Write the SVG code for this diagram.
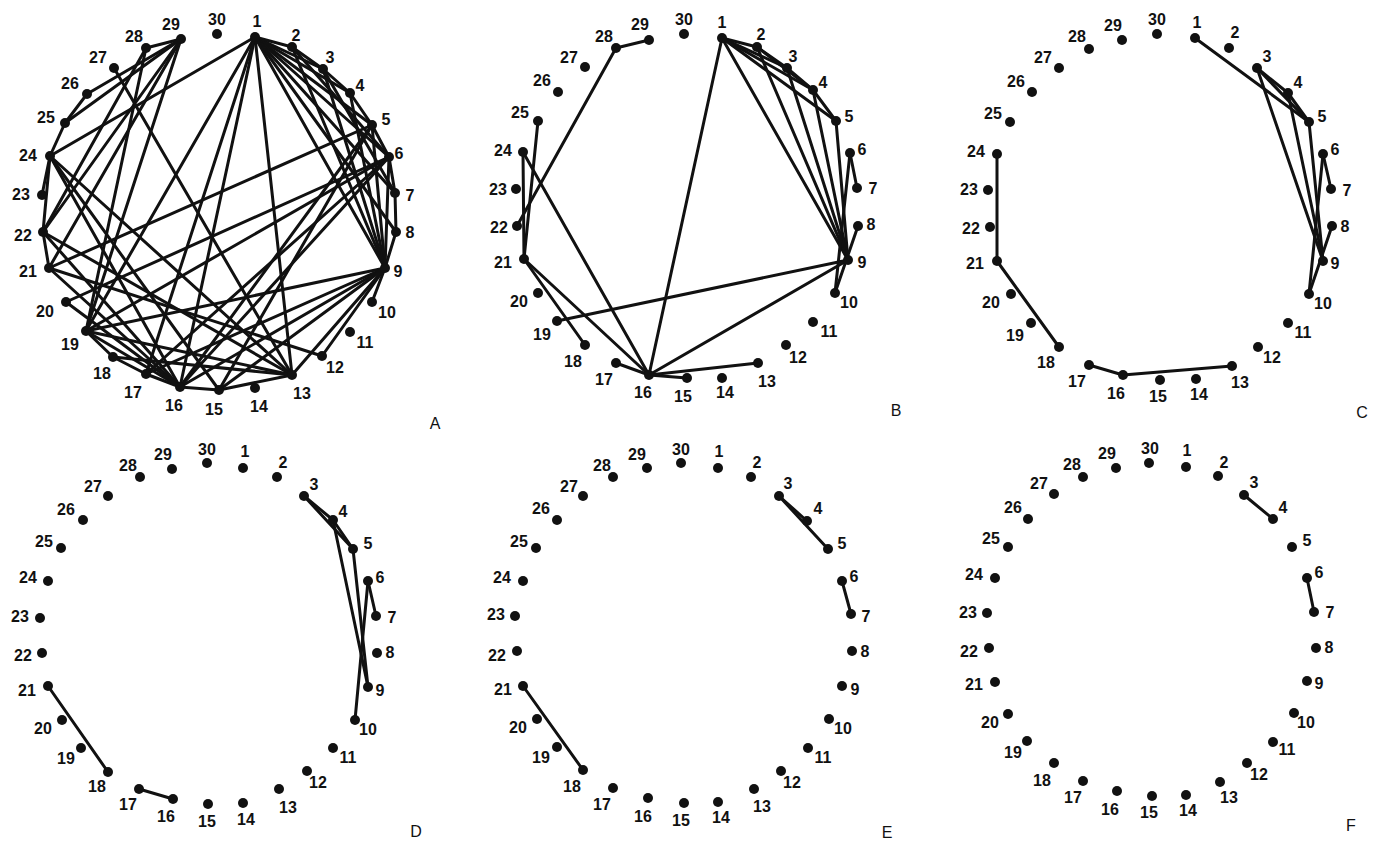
<svg xmlns="http://www.w3.org/2000/svg" width="1384" height="843" viewBox="0 0 1384 843">
<style>
.e line{stroke:#111;stroke-width:3;stroke-linecap:round}
.nd circle{fill:#111}
.nd text{font-family:"Liberation Sans",Arial,sans-serif;font-weight:bold;font-size:16px;fill:#111;text-anchor:middle}
.pl{font-family:"Liberation Sans",Arial,sans-serif;font-size:16px;fill:#111;text-anchor:middle}
</style>
<rect width="1384" height="843" fill="#fff"/>
<g id="connectors" class="e">
<!-- A -->
<line x1="255" y1="37" x2="292" y2="47"/><line x1="255" y1="37" x2="323" y2="69"/><line x1="255" y1="37" x2="350" y2="93"/><line x1="255" y1="37" x2="372" y2="125"/><line x1="255" y1="37" x2="389" y2="157"/><line x1="255" y1="37" x2="395" y2="193"/><line x1="255" y1="37" x2="396" y2="232"/><line x1="255" y1="37" x2="385" y2="268"/>
<line x1="292" y1="47" x2="323" y2="69"/><line x1="323" y1="69" x2="350" y2="93"/><line x1="350" y1="93" x2="372" y2="125"/><line x1="372" y1="125" x2="389" y2="157"/><line x1="389" y1="157" x2="395" y2="193"/><line x1="395" y1="193" x2="396" y2="232"/><line x1="396" y1="232" x2="385" y2="268"/><line x1="385" y1="268" x2="372" y2="302"/>
<line x1="292" y1="47" x2="385" y2="268"/><line x1="323" y1="69" x2="385" y2="268"/><line x1="350" y1="93" x2="385" y2="268"/><line x1="372" y1="125" x2="385" y2="268"/><line x1="389" y1="157" x2="385" y2="268"/><line x1="292" y1="47" x2="389" y2="157"/><line x1="323" y1="69" x2="395" y2="193"/>
<line x1="146" y1="48" x2="181" y2="39"/><line x1="65" y1="123" x2="87" y2="94"/><line x1="50" y1="156" x2="65" y2="123"/><line x1="50" y1="156" x2="43" y2="232"/><line x1="49" y1="268" x2="43" y2="232"/><line x1="50" y1="156" x2="42" y2="195"/>
<line x1="87" y1="94" x2="181" y2="39"/><line x1="65" y1="123" x2="181" y2="39"/><line x1="43" y1="232" x2="181" y2="39"/><line x1="49" y1="268" x2="181" y2="39"/><line x1="43" y1="232" x2="146" y2="48"/><line x1="86" y1="331" x2="146" y2="48"/><line x1="86" y1="331" x2="181" y2="39"/>
<line x1="255" y1="37" x2="50" y2="156"/><line x1="255" y1="37" x2="86" y2="331"/><line x1="255" y1="37" x2="180" y2="387"/><line x1="255" y1="37" x2="292" y2="375"/><line x1="255" y1="37" x2="146" y2="374"/>
<line x1="114" y1="68" x2="292" y2="375"/><line x1="50" y1="156" x2="292" y2="375"/><line x1="50" y1="156" x2="180" y2="387"/><line x1="50" y1="156" x2="219" y2="390"/><line x1="43" y1="232" x2="292" y2="375"/><line x1="43" y1="232" x2="180" y2="387"/><line x1="49" y1="268" x2="180" y2="387"/><line x1="49" y1="268" x2="322" y2="356"/>
<line x1="86" y1="331" x2="292" y2="375"/><line x1="86" y1="331" x2="385" y2="268"/><line x1="146" y1="374" x2="385" y2="268"/><line x1="180" y1="387" x2="385" y2="268"/><line x1="219" y1="390" x2="385" y2="268"/><line x1="292" y1="375" x2="385" y2="268"/><line x1="322" y1="356" x2="385" y2="268"/>
<line x1="180" y1="387" x2="372" y2="125"/><line x1="219" y1="390" x2="372" y2="125"/><line x1="146" y1="374" x2="389" y2="157"/><line x1="180" y1="387" x2="389" y2="157"/><line x1="86" y1="331" x2="389" y2="157"/><line x1="49" y1="268" x2="372" y2="125"/><line x1="66" y1="302" x2="389" y2="157"/>
<line x1="292" y1="375" x2="219" y2="390"/><line x1="219" y1="390" x2="180" y2="387"/><line x1="180" y1="387" x2="146" y2="374"/><line x1="146" y1="374" x2="113" y2="357"/><line x1="113" y1="357" x2="86" y2="331"/><line x1="86" y1="331" x2="180" y2="387"/><line x1="113" y1="357" x2="292" y2="375"/><line x1="66" y1="302" x2="180" y2="387"/>
<!-- B -->
<line x1="616" y1="48" x2="649" y2="40"/><line x1="616" y1="48" x2="517" y2="226"/><line x1="538" y1="121" x2="524" y2="259"/><line x1="523" y1="152" x2="524" y2="259"/><line x1="523" y1="152" x2="649" y2="375"/><line x1="524" y1="259" x2="649" y2="375"/><line x1="524" y1="259" x2="585" y2="345"/>
<line x1="557" y1="321" x2="848" y2="260"/><line x1="616" y1="363" x2="649" y2="375"/><line x1="649" y1="375" x2="687" y2="378"/><line x1="649" y1="375" x2="758" y2="363"/><line x1="649" y1="375" x2="722" y2="38"/><line x1="649" y1="375" x2="848" y2="260"/>
<line x1="722" y1="38" x2="757" y2="47"/><line x1="722" y1="38" x2="787" y2="68"/><line x1="722" y1="38" x2="813" y2="90"/><line x1="722" y1="38" x2="836" y2="121"/><line x1="722" y1="38" x2="848" y2="260"/><line x1="757" y1="47" x2="787" y2="68"/><line x1="757" y1="47" x2="813" y2="90"/><line x1="787" y1="68" x2="813" y2="90"/><line x1="813" y1="90" x2="836" y2="121"/>
<line x1="757" y1="47" x2="848" y2="260"/><line x1="787" y1="68" x2="848" y2="260"/><line x1="813" y1="90" x2="848" y2="260"/><line x1="836" y1="121" x2="848" y2="260"/><line x1="850" y1="153" x2="857" y2="188"/><line x1="850" y1="153" x2="835" y2="293"/><line x1="858" y1="226" x2="835" y2="293"/>
<!-- C -->
<line x1="997" y1="154" x2="997" y2="261"/><line x1="997" y1="261" x2="1059" y2="347"/><line x1="1089" y1="365" x2="1123" y2="375"/><line x1="1123" y1="375" x2="1232" y2="366"/>
<line x1="1195" y1="38" x2="1309" y2="122"/><line x1="1257" y1="68" x2="1288" y2="93"/><line x1="1288" y1="93" x2="1309" y2="122"/><line x1="1257" y1="68" x2="1309" y2="122"/><line x1="1257" y1="68" x2="1323" y2="261"/><line x1="1288" y1="93" x2="1323" y2="261"/><line x1="1309" y1="122" x2="1323" y2="261"/><line x1="1323" y1="154" x2="1331" y2="189"/><line x1="1323" y1="154" x2="1309" y2="294"/><line x1="1332" y1="226" x2="1309" y2="294"/>
<!-- D -->
<line x1="48" y1="686" x2="108" y2="772"/><line x1="139" y1="789" x2="173" y2="799"/><line x1="304" y1="496" x2="333" y2="520"/><line x1="333" y1="520" x2="353" y2="549"/><line x1="304" y1="496" x2="353" y2="549"/><line x1="333" y1="520" x2="368" y2="687"/><line x1="353" y1="549" x2="368" y2="687"/><line x1="368" y1="581" x2="376" y2="616"/><line x1="368" y1="581" x2="355" y2="720"/>
<!-- E -->
<line x1="523" y1="686" x2="583" y2="770"/><line x1="779" y1="496" x2="807" y2="521"/><line x1="779" y1="496" x2="828" y2="549"/><line x1="842" y1="581" x2="851" y2="614"/>
<!-- F -->
<line x1="1244" y1="495" x2="1273" y2="519"/><line x1="1307" y1="578" x2="1314" y2="612"/>
</g>
<g id="panelA">
<g id="A1" class="nd"><circle cx="255" cy="37" r="5"/><text x="257" y="27">1</text></g>
<g id="A2" class="nd"><circle cx="292" cy="47" r="5"/><text x="296" y="41">2</text></g>
<g id="A3" class="nd"><circle cx="323" cy="69" r="5"/><text x="330" y="63">3</text></g>
<g id="A4" class="nd"><circle cx="350" cy="93" r="5"/><text x="360" y="91">4</text></g>
<g id="A5" class="nd"><circle cx="372" cy="125" r="5"/><text x="386" y="125">5</text></g>
<g id="A6" class="nd"><circle cx="389" cy="157" r="5"/><text x="399" y="159">6</text></g>
<g id="A7" class="nd"><circle cx="395" cy="193" r="5"/><text x="410" y="201">7</text></g>
<g id="A8" class="nd"><circle cx="396" cy="232" r="5"/><text x="410" y="238">8</text></g>
<g id="A9" class="nd"><circle cx="385" cy="268" r="5"/><text x="398" y="277">9</text></g>
<g id="A10" class="nd"><circle cx="372" cy="302" r="5"/><text x="387" y="318">10</text></g>
<g id="A11" class="nd"><circle cx="350" cy="332" r="5"/><text x="365" y="348">11</text></g>
<g id="A12" class="nd"><circle cx="322" cy="356" r="5"/><text x="335" y="373">12</text></g>
<g id="A13" class="nd"><circle cx="292" cy="375" r="5"/><text x="302" y="399">13</text></g>
<g id="A14" class="nd"><circle cx="255" cy="388" r="5"/><text x="259" y="412">14</text></g>
<g id="A15" class="nd"><circle cx="219" cy="390" r="5"/><text x="214" y="415">15</text></g>
<g id="A16" class="nd"><circle cx="180" cy="387" r="5"/><text x="174" y="411">16</text></g>
<g id="A17" class="nd"><circle cx="146" cy="374" r="5"/><text x="133" y="398">17</text></g>
<g id="A18" class="nd"><circle cx="113" cy="357" r="5"/><text x="102" y="379">18</text></g>
<g id="A19" class="nd"><circle cx="86" cy="331" r="5"/><text x="70" y="350">19</text></g>
<g id="A20" class="nd"><circle cx="66" cy="302" r="5"/><text x="45" y="317">20</text></g>
<g id="A21" class="nd"><circle cx="49" cy="268" r="5"/><text x="28" y="277">21</text></g>
<g id="A22" class="nd"><circle cx="43" cy="232" r="5"/><text x="23" y="241">22</text></g>
<g id="A23" class="nd"><circle cx="42" cy="195" r="5"/><text x="21" y="200">23</text></g>
<g id="A24" class="nd"><circle cx="50" cy="156" r="5"/><text x="28" y="161">24</text></g>
<g id="A25" class="nd"><circle cx="65" cy="123" r="5"/><text x="46" y="123">25</text></g>
<g id="A26" class="nd"><circle cx="87" cy="94" r="5"/><text x="70" y="89">26</text></g>
<g id="A27" class="nd"><circle cx="114" cy="68" r="5"/><text x="98" y="63">27</text></g>
<g id="A28" class="nd"><circle cx="146" cy="48" r="5"/><text x="134" y="42">28</text></g>
<g id="A29" class="nd"><circle cx="181" cy="39" r="5"/><text x="171" y="30">29</text></g>
<g id="A30" class="nd"><circle cx="217" cy="34" r="5"/><text x="217" y="25">30</text></g>
<text class="pl" x="435" y="429">A</text>
</g>
<g id="panelB">
<g id="B1" class="nd"><circle cx="722" cy="38" r="5"/><text x="722" y="28">1</text></g>
<g id="B2" class="nd"><circle cx="757" cy="47" r="5"/><text x="761" y="40">2</text></g>
<g id="B3" class="nd"><circle cx="787" cy="68" r="5"/><text x="793" y="62">3</text></g>
<g id="B4" class="nd"><circle cx="813" cy="90" r="5"/><text x="823" y="88">4</text></g>
<g id="B5" class="nd"><circle cx="836" cy="121" r="5"/><text x="849" y="122">5</text></g>
<g id="B6" class="nd"><circle cx="850" cy="153" r="5"/><text x="862" y="155">6</text></g>
<g id="B7" class="nd"><circle cx="857" cy="188" r="5"/><text x="873" y="194">7</text></g>
<g id="B8" class="nd"><circle cx="858" cy="226" r="5"/><text x="871" y="230">8</text></g>
<g id="B9" class="nd"><circle cx="848" cy="260" r="5"/><text x="862" y="268">9</text></g>
<g id="B10" class="nd"><circle cx="835" cy="293" r="5"/><text x="849" y="308">10</text></g>
<g id="B11" class="nd"><circle cx="813" cy="322" r="5"/><text x="829" y="337">11</text></g>
<g id="B12" class="nd"><circle cx="786" cy="345" r="5"/><text x="798" y="363">12</text></g>
<g id="B13" class="nd"><circle cx="758" cy="363" r="5"/><text x="767" y="387">13</text></g>
<g id="B14" class="nd"><circle cx="722" cy="378" r="5"/><text x="725" y="398">14</text></g>
<g id="B15" class="nd"><circle cx="687" cy="378" r="5"/><text x="683" y="402">15</text></g>
<g id="B16" class="nd"><circle cx="649" cy="375" r="5"/><text x="643" y="398">16</text></g>
<g id="B17" class="nd"><circle cx="616" cy="363" r="5"/><text x="604" y="385">17</text></g>
<g id="B18" class="nd"><circle cx="585" cy="345" r="5"/><text x="573" y="367">18</text></g>
<g id="B19" class="nd"><circle cx="557" cy="321" r="5"/><text x="542" y="340">19</text></g>
<g id="B20" class="nd"><circle cx="538" cy="293" r="5"/><text x="519" y="307">20</text></g>
<g id="B21" class="nd"><circle cx="524" cy="259" r="5"/><text x="503" y="268">21</text></g>
<g id="B22" class="nd"><circle cx="517" cy="226" r="5"/><text x="499" y="233">22</text></g>
<g id="B23" class="nd"><circle cx="516" cy="189" r="5"/><text x="498" y="195">23</text></g>
<g id="B24" class="nd"><circle cx="523" cy="152" r="5"/><text x="503" y="156">24</text></g>
<g id="B25" class="nd"><circle cx="538" cy="121" r="5"/><text x="520" y="118">25</text></g>
<g id="B26" class="nd"><circle cx="558" cy="92" r="5"/><text x="542" y="86">26</text></g>
<g id="B27" class="nd"><circle cx="585" cy="67" r="5"/><text x="569" y="63">27</text></g>
<g id="B28" class="nd"><circle cx="616" cy="48" r="5"/><text x="604" y="42">28</text></g>
<g id="B29" class="nd"><circle cx="649" cy="40" r="5"/><text x="640" y="30">29</text></g>
<g id="B30" class="nd"><circle cx="684" cy="34" r="5"/><text x="684" y="25">30</text></g>
<text class="pl" x="896" y="416">B</text>
</g>
<g id="panelC">
<g id="C1" class="nd"><circle cx="1195" cy="38" r="5"/><text x="1197" y="28">1</text></g>
<g id="C2" class="nd"><circle cx="1229" cy="48" r="5"/><text x="1235" y="38">2</text></g>
<g id="C3" class="nd"><circle cx="1257" cy="68" r="5"/><text x="1267" y="62">3</text></g>
<g id="C4" class="nd"><circle cx="1288" cy="93" r="5"/><text x="1298" y="88">4</text></g>
<g id="C5" class="nd"><circle cx="1309" cy="122" r="5"/><text x="1322" y="122">5</text></g>
<g id="C6" class="nd"><circle cx="1323" cy="154" r="5"/><text x="1335" y="155">6</text></g>
<g id="C7" class="nd"><circle cx="1331" cy="189" r="5"/><text x="1347" y="196">7</text></g>
<g id="C8" class="nd"><circle cx="1332" cy="226" r="5"/><text x="1345" y="232">8</text></g>
<g id="C9" class="nd"><circle cx="1323" cy="261" r="5"/><text x="1335" y="269">9</text></g>
<g id="C10" class="nd"><circle cx="1309" cy="294" r="5"/><text x="1323" y="309">10</text></g>
<g id="C11" class="nd"><circle cx="1288" cy="323" r="5"/><text x="1303" y="338">11</text></g>
<g id="C12" class="nd"><circle cx="1258" cy="347" r="5"/><text x="1272" y="363">12</text></g>
<g id="C13" class="nd"><circle cx="1232" cy="366" r="5"/><text x="1240" y="388">13</text></g>
<g id="C14" class="nd"><circle cx="1196" cy="379" r="5"/><text x="1199" y="400">14</text></g>
<g id="C15" class="nd"><circle cx="1160" cy="380" r="5"/><text x="1158" y="402">15</text></g>
<g id="C16" class="nd"><circle cx="1123" cy="375" r="5"/><text x="1116" y="399">16</text></g>
<g id="C17" class="nd"><circle cx="1089" cy="365" r="5"/><text x="1077" y="387">17</text></g>
<g id="C18" class="nd"><circle cx="1059" cy="347" r="5"/><text x="1046" y="368">18</text></g>
<g id="C19" class="nd"><circle cx="1031" cy="323" r="5"/><text x="1015" y="341">19</text></g>
<g id="C20" class="nd"><circle cx="1011" cy="294" r="5"/><text x="991" y="308">20</text></g>
<g id="C21" class="nd"><circle cx="997" cy="261" r="5"/><text x="975" y="269">21</text></g>
<g id="C22" class="nd"><circle cx="990" cy="227" r="5"/><text x="971" y="234">22</text></g>
<g id="C23" class="nd"><circle cx="988" cy="190" r="5"/><text x="969" y="195">23</text></g>
<g id="C24" class="nd"><circle cx="997" cy="154" r="5"/><text x="976" y="157">24</text></g>
<g id="C25" class="nd"><circle cx="1010" cy="122" r="5"/><text x="993" y="119">25</text></g>
<g id="C26" class="nd"><circle cx="1032" cy="92" r="5"/><text x="1016" y="87">26</text></g>
<g id="C27" class="nd"><circle cx="1059" cy="68" r="5"/><text x="1043" y="63">27</text></g>
<g id="C28" class="nd"><circle cx="1089" cy="49" r="5"/><text x="1077" y="42">28</text></g>
<g id="C29" class="nd"><circle cx="1122" cy="40" r="5"/><text x="1113" y="31">29</text></g>
<g id="C30" class="nd"><circle cx="1157" cy="34" r="5"/><text x="1157" y="25">30</text></g>
<text class="pl" x="1362" y="418">C</text>
</g>
<g id="panelD">
<g id="D1" class="nd"><circle cx="243" cy="468" r="5"/><text x="245" y="457">1</text></g>
<g id="D2" class="nd"><circle cx="277" cy="477" r="5"/><text x="283" y="468">2</text></g>
<g id="D3" class="nd"><circle cx="304" cy="496" r="5"/><text x="314" y="490">3</text></g>
<g id="D4" class="nd"><circle cx="333" cy="520" r="5"/><text x="343" y="517">4</text></g>
<g id="D5" class="nd"><circle cx="353" cy="549" r="5"/><text x="368" y="549">5</text></g>
<g id="D6" class="nd"><circle cx="368" cy="581" r="5"/><text x="380" y="583">6</text></g>
<g id="D7" class="nd"><circle cx="376" cy="616" r="5"/><text x="392" y="623">7</text></g>
<g id="D8" class="nd"><circle cx="377" cy="653" r="5"/><text x="390" y="658">8</text></g>
<g id="D9" class="nd"><circle cx="368" cy="687" r="5"/><text x="380" y="696">9</text></g>
<g id="D10" class="nd"><circle cx="355" cy="720" r="5"/><text x="368" y="735">10</text></g>
<g id="D11" class="nd"><circle cx="333" cy="748" r="5"/><text x="348" y="763">11</text></g>
<g id="D12" class="nd"><circle cx="307" cy="771" r="5"/><text x="318" y="788">12</text></g>
<g id="D13" class="nd"><circle cx="279" cy="789" r="5"/><text x="288" y="813">13</text></g>
<g id="D14" class="nd"><circle cx="243" cy="803" r="5"/><text x="246" y="825">14</text></g>
<g id="D15" class="nd"><circle cx="208" cy="804" r="5"/><text x="207" y="827">15</text></g>
<g id="D16" class="nd"><circle cx="173" cy="799" r="5"/><text x="166" y="822">16</text></g>
<g id="D17" class="nd"><circle cx="139" cy="789" r="5"/><text x="128" y="810">17</text></g>
<g id="D18" class="nd"><circle cx="108" cy="772" r="5"/><text x="97" y="792">18</text></g>
<g id="D19" class="nd"><circle cx="81" cy="748" r="5"/><text x="66" y="764">19</text></g>
<g id="D20" class="nd"><circle cx="62" cy="720" r="5"/><text x="43" y="734">20</text></g>
<g id="D21" class="nd"><circle cx="48" cy="686" r="5"/><text x="27" y="696">21</text></g>
<g id="D22" class="nd"><circle cx="42" cy="653" r="5"/><text x="23" y="661">22</text></g>
<g id="D23" class="nd"><circle cx="40" cy="618" r="5"/><text x="20" y="622">23</text></g>
<g id="D24" class="nd"><circle cx="48" cy="581" r="5"/><text x="28" y="583">24</text></g>
<g id="D25" class="nd"><circle cx="61" cy="548" r="5"/><text x="44" y="547">25</text></g>
<g id="D26" class="nd"><circle cx="83" cy="520" r="5"/><text x="66" y="515">26</text></g>
<g id="D27" class="nd"><circle cx="108" cy="496" r="5"/><text x="93" y="492">27</text></g>
<g id="D28" class="nd"><circle cx="140" cy="477" r="5"/><text x="128" y="471">28</text></g>
<g id="D29" class="nd"><circle cx="172" cy="469" r="5"/><text x="163" y="460">29</text></g>
<g id="D30" class="nd"><circle cx="207" cy="463" r="5"/><text x="207" y="455">30</text></g>
<text class="pl" x="416" y="837">D</text>
</g>
<g id="panelE">
<g id="E1" class="nd"><circle cx="718" cy="468" r="5"/><text x="719" y="457">1</text></g>
<g id="E2" class="nd"><circle cx="751" cy="477" r="5"/><text x="757" y="468">2</text></g>
<g id="E3" class="nd"><circle cx="779" cy="496" r="5"/><text x="788" y="489">3</text></g>
<g id="E4" class="nd"><circle cx="807" cy="521" r="5"/><text x="818" y="514">4</text></g>
<g id="E5" class="nd"><circle cx="828" cy="549" r="5"/><text x="842" y="549">5</text></g>
<g id="E6" class="nd"><circle cx="842" cy="581" r="5"/><text x="854" y="582">6</text></g>
<g id="E7" class="nd"><circle cx="851" cy="614" r="5"/><text x="866" y="622">7</text></g>
<g id="E8" class="nd"><circle cx="852" cy="651" r="5"/><text x="865" y="657">8</text></g>
<g id="E9" class="nd"><circle cx="842" cy="686" r="5"/><text x="855" y="695">9</text></g>
<g id="E10" class="nd"><circle cx="829" cy="719" r="5"/><text x="843" y="734">10</text></g>
<g id="E11" class="nd"><circle cx="808" cy="748" r="5"/><text x="823" y="763">11</text></g>
<g id="E12" class="nd"><circle cx="781" cy="771" r="5"/><text x="792" y="788">12</text></g>
<g id="E13" class="nd"><circle cx="754" cy="789" r="5"/><text x="762" y="812">13</text></g>
<g id="E14" class="nd"><circle cx="718" cy="802" r="5"/><text x="721" y="823">14</text></g>
<g id="E15" class="nd"><circle cx="684" cy="803" r="5"/><text x="681" y="826">15</text></g>
<g id="E16" class="nd"><circle cx="648" cy="798" r="5"/><text x="643" y="822">16</text></g>
<g id="E17" class="nd"><circle cx="613" cy="788" r="5"/><text x="602" y="810">17</text></g>
<g id="E18" class="nd"><circle cx="583" cy="770" r="5"/><text x="572" y="792">18</text></g>
<g id="E19" class="nd"><circle cx="557" cy="747" r="5"/><text x="541" y="763">19</text></g>
<g id="E20" class="nd"><circle cx="537" cy="719" r="5"/><text x="518" y="733">20</text></g>
<g id="E21" class="nd"><circle cx="523" cy="686" r="5"/><text x="503" y="695">21</text></g>
<g id="E22" class="nd"><circle cx="517" cy="651" r="5"/><text x="497" y="661">22</text></g>
<g id="E23" class="nd"><circle cx="515" cy="616" r="5"/><text x="496" y="620">23</text></g>
<g id="E24" class="nd"><circle cx="523" cy="581" r="5"/><text x="502" y="583">24</text></g>
<g id="E25" class="nd"><circle cx="536" cy="548" r="5"/><text x="519" y="547">25</text></g>
<g id="E26" class="nd"><circle cx="557" cy="520" r="5"/><text x="541" y="514">26</text></g>
<g id="E27" class="nd"><circle cx="583" cy="496" r="5"/><text x="569" y="492">27</text></g>
<g id="E28" class="nd"><circle cx="613" cy="477" r="5"/><text x="602" y="471">28</text></g>
<g id="E29" class="nd"><circle cx="647" cy="468" r="5"/><text x="637" y="460">29</text></g>
<g id="E30" class="nd"><circle cx="681" cy="463" r="5"/><text x="681" y="455">30</text></g>
<text class="pl" x="887" y="838">E</text>
</g>
<g id="panelF">
<g id="F1" class="nd"><circle cx="1186" cy="467" r="5"/><text x="1187" y="456">1</text></g>
<g id="F2" class="nd"><circle cx="1218" cy="476" r="5"/><text x="1224" y="468">2</text></g>
<g id="F3" class="nd"><circle cx="1244" cy="495" r="5"/><text x="1254" y="488">3</text></g>
<g id="F4" class="nd"><circle cx="1273" cy="519" r="5"/><text x="1283" y="513">4</text></g>
<g id="F5" class="nd"><circle cx="1292" cy="547" r="5"/><text x="1307" y="546">5</text></g>
<g id="F6" class="nd"><circle cx="1307" cy="578" r="5"/><text x="1319" y="578">6</text></g>
<g id="F7" class="nd"><circle cx="1314" cy="612" r="5"/><text x="1330" y="618">7</text></g>
<g id="F8" class="nd"><circle cx="1316" cy="648" r="5"/><text x="1329" y="653">8</text></g>
<g id="F9" class="nd"><circle cx="1307" cy="681" r="5"/><text x="1319" y="689">9</text></g>
<g id="F10" class="nd"><circle cx="1294" cy="713" r="5"/><text x="1306" y="728">10</text></g>
<g id="F11" class="nd"><circle cx="1273" cy="742" r="5"/><text x="1287" y="755">11</text></g>
<g id="F12" class="nd"><circle cx="1247" cy="763" r="5"/><text x="1259" y="780">12</text></g>
<g id="F13" class="nd"><circle cx="1220" cy="782" r="5"/><text x="1229" y="803">13</text></g>
<g id="F14" class="nd"><circle cx="1186" cy="795" r="5"/><text x="1188" y="816">14</text></g>
<g id="F15" class="nd"><circle cx="1152" cy="796" r="5"/><text x="1149" y="818">15</text></g>
<g id="F16" class="nd"><circle cx="1117" cy="791" r="5"/><text x="1110" y="815">16</text></g>
<g id="F17" class="nd"><circle cx="1083" cy="781" r="5"/><text x="1073" y="803">17</text></g>
<g id="F18" class="nd"><circle cx="1054" cy="763" r="5"/><text x="1042" y="786">18</text></g>
<g id="F19" class="nd"><circle cx="1027" cy="741" r="5"/><text x="1013" y="758">19</text></g>
<g id="F20" class="nd"><circle cx="1008" cy="714" r="5"/><text x="990" y="728">20</text></g>
<g id="F21" class="nd"><circle cx="995" cy="682" r="5"/><text x="974" y="690">21</text></g>
<g id="F22" class="nd"><circle cx="989" cy="648" r="5"/><text x="969" y="657">22</text></g>
<g id="F23" class="nd"><circle cx="987" cy="613" r="5"/><text x="968" y="618">23</text></g>
<g id="F24" class="nd"><circle cx="995" cy="578" r="5"/><text x="974" y="580">24</text></g>
<g id="F25" class="nd"><circle cx="1008" cy="547" r="5"/><text x="991" y="544">25</text></g>
<g id="F26" class="nd"><circle cx="1028" cy="519" r="5"/><text x="1013" y="513">26</text></g>
<g id="F27" class="nd"><circle cx="1054" cy="494" r="5"/><text x="1039" y="489">27</text></g>
<g id="F28" class="nd"><circle cx="1083" cy="477" r="5"/><text x="1072" y="470">28</text></g>
<g id="F29" class="nd"><circle cx="1116" cy="468" r="5"/><text x="1107" y="459">29</text></g>
<g id="F30" class="nd"><circle cx="1149" cy="463" r="5"/><text x="1150" y="454">30</text></g>
<text class="pl" x="1351" y="831">F</text>
</g>
</svg>
